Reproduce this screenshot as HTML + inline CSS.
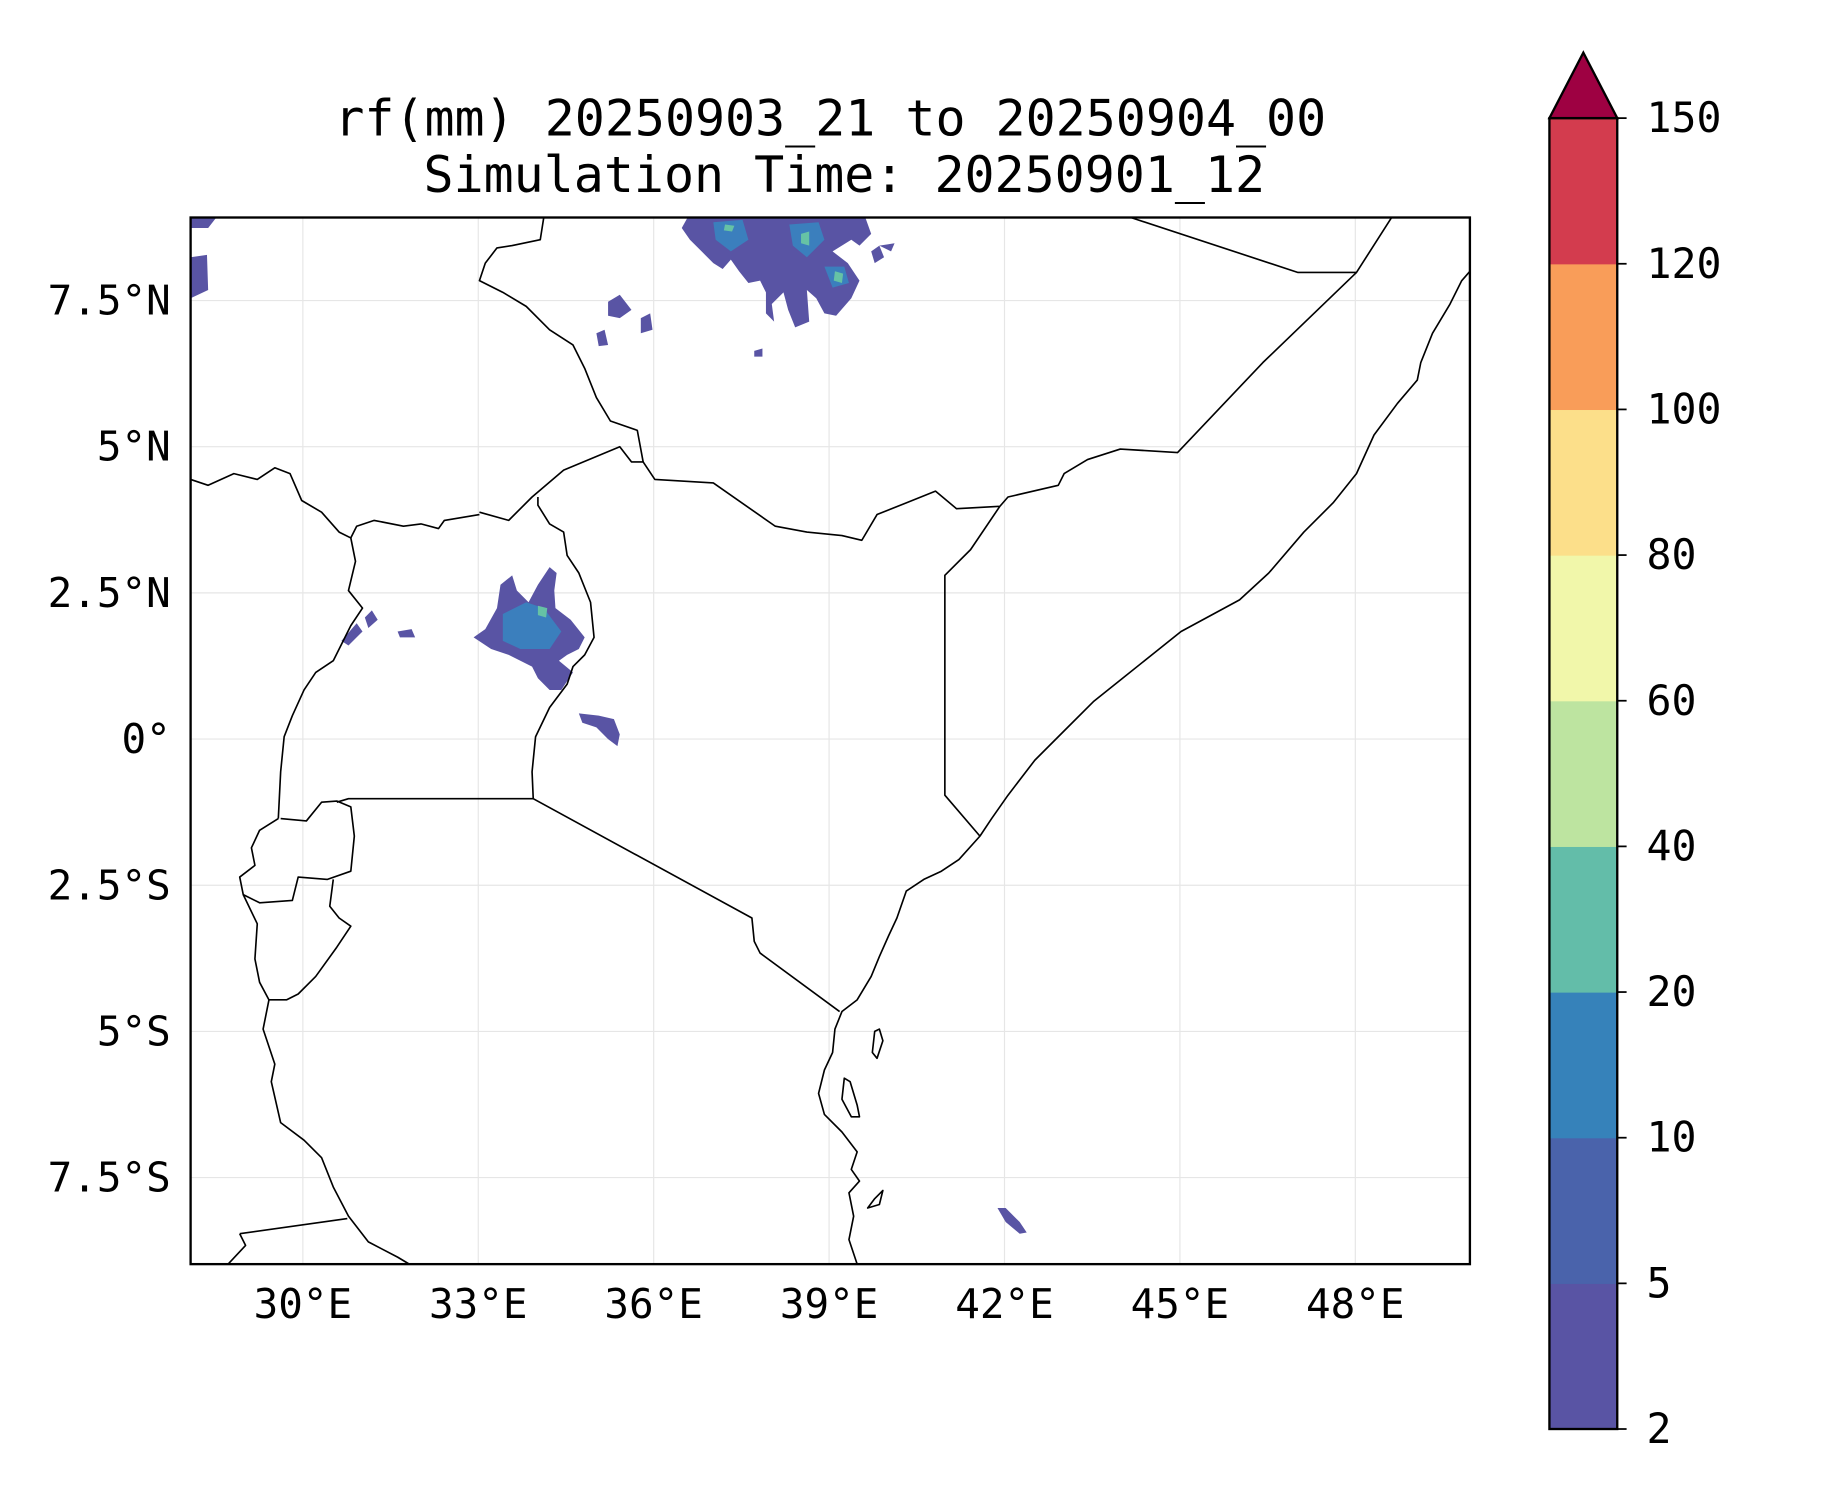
<!DOCTYPE html>
<html><head><meta charset="utf-8"><style>
html,body{margin:0;padding:0;background:#fff;}
svg{display:block;}
text{font-family:"DejaVu Sans Mono","Liberation Mono",monospace;fill:#000;}
</style></head><body>
<svg id="chart" width="1833" height="1500" viewBox="0 0 1567.5 1282.7" preserveAspectRatio="none" xmlns="http://www.w3.org/2000/svg">
<text x="710" y="116" font-size="42.7" text-anchor="middle">rf(mm) 20250903_21 to 20250904_00</text>
<text x="722" y="164" font-size="42.7" text-anchor="middle">Simulation Time: 20250901_12</text>
<g id="grid"></g>
<g id="rain">
 <path fill="#5954a4" d="M428,500 L438,492 L442,505 L452,515 L460,500 L470,485 L476,490 L474,505 L475,520 L488,530 L500,545 L495,555 L485,560 L478,565 L490,575 L480,590 L470,590 L460,580 L455,570 L445,565 L435,560 L420,555 L405,545 L415,538 L425,520 Z"/>
 <path fill="#3b7fbd" d="M430,525 L450,515 L465,520 L480,540 L470,555 L445,555 L430,548 Z"/>
 <path fill="#66c2a5" d="M460,518 L468,520 L467,528 L460,526 Z"/>
 <path fill="#5954a4" d="M495,610 L512,612 L525,615 L530,628 L528,638 L520,632 L510,622 L498,618 Z"/>
 <path fill="#5954a4" d="M292,548 L305,533 L310,540 L298,552 Z M312,528 L318,522 L323,530 L315,537 Z M340,540 L352,538 L355,545 L342,545 Z"/>
 <path fill="#5954a4" d="M588,186 L740,186 L745,200 L735,210 L728,205 L712,215 L725,225 L735,240 L728,255 L715,270 L705,268 L698,255 L690,248 L692,275 L680,280 L674,265 L670,250 L660,260 L662,275 L655,268 L655,250 L650,240 L640,242 L632,232 L625,222 L618,230 L610,225 L600,215 L590,205 L583,195 Z"/>
 <path fill="#3b7fbd" d="M610,190 L635,188 L640,205 L625,215 L612,205 Z M675,192 L700,190 L705,205 L690,220 L678,210 Z M705,228 L722,228 L726,242 L712,246 Z"/>
 <path fill="#66c2a5" d="M685,200 L692,198 L692,210 L685,208 Z M714,232 L721,234 L720,242 L713,240 Z M620,192 L628,193 L626,198 L619,197 Z"/>
 <path fill="#5954a4" d="M520,258 L530,252 L540,265 L530,272 L520,270 Z M548,272 L556,268 L558,282 L548,285 Z M510,285 L517,282 L520,295 L512,296 Z M645,300 L652,298 L652,305 L645,305 Z M163,220 L177,218 L178,248 L163,255 Z M163,186 L185,186 L178,195 L163,195 Z M745,215 L752,210 L756,220 L748,225 Z M752,210 L765,208 L762,215 Z"/>
 <path fill="#5954a4" d="M853,1033 L860,1033 L872,1045 L878,1054 L872,1055 L860,1045 Z"/>
</g>
<g fill="none" stroke="#000" stroke-width="1.4" stroke-linejoin="round">
 <polyline points="1257,232 1250,240 1240,260 1225,285 1215,310 1212,325 1195,345 1175,372 1160,405 1140,430 1115,455 1085,490 1060,513 1010,540 985,560 960,580 935,600 910,625 885,650 862,680 848,700 838,715 820,735 805,745 790,752 775,762 767,785 760,800 752,818 745,835 733,855 720,865 714,880 712,900 705,915 700,935 705,953 720,968 733,985 728,1000 735,1010 726,1020 730,1040 726,1060 733,1081"/>
 <polyline points="967,186 1110,233 1160,233 1190,186"/>
 <polyline points="1160,233 1080,310 1007,387 958,384 930,393 910,405 905,415 862,425 855,433 818,435 800,420 775,430 750,440 737,462 720,458 690,455 663,450 610,413 560,410 550,395 540,395 530,382 482,402 455,425 435,445 410,438"/>
 <polyline points="855,433 830,470 808,492 808,680 838,715"/>
 <polyline points="456,683 643,785 645,805 650,815 718,865"/>
 <polyline points="288,686 298,683 456,683"/>
 <polyline points="456,683 455,660 458,630 470,605 485,585 490,570 500,560 508,545 505,515 495,490 485,475 482,455 470,448 460,432 460,425"/>
 <polyline points="300,460 304,480 298,505 310,520 300,535 285,565 270,575 260,590 250,612 243,630 240,660 238,700"/>
 <polyline points="300,460 305,450 320,445 345,450 360,448 375,452 380,445 410,440"/>
 <polyline points="163,410 178,415 200,405 220,410 235,400 248,405 258,428 275,438 290,455 300,460"/>
 <polyline points="465,186 462,205 438,210 425,212 415,225 410,240 430,250 450,262 470,282 490,295 500,315 510,340 522,360 545,368 550,395"/>
 <polyline points="238,700 222,710 215,725 218,740 205,750 208,765 222,772 250,770 255,750 280,752 300,745 303,715 300,690 288,685 275,686 262,702 240,700"/>
 <polyline points="208,765 220,790 218,820 222,840 230,855 225,880 235,910 232,925 240,960 260,975 275,990 285,1015 298,1040 315,1062 340,1075 350,1081"/>
 <polyline points="285,752 282,775 290,785 300,792 288,810 270,835 255,850 245,855 230,855"/>
 <polyline points="205,1055 297,1042"/>
 <polyline points="205,1055 210,1065 195,1081"/>
 <path d="M748,882 L752,880 L755,890 L750,905 L746,900 Z"/>
 <path d="M722,922 L727,925 L733,945 L735,955 L728,955 L720,940 Z"/>
 <path d="M748,1025 L755,1018 L752,1030 L742,1033 Z"/>
</g>
<rect x="163" y="186" width="1094" height="895" fill="none" stroke="#000" stroke-width="2"/>
<g id="axes"></g>
<g id="cbar"></g>
<script>
const lonTicks = [30, 33, 36, 39, 42, 45, 48];
const lonLabels = ["30°E","33°E","36°E","39°E","42°E","45°E","48°E"];
const latTicks = [7.5, 5, 2.5, 0, -2.5, -5, -7.5];
const latLabels = ["7.5°N","5°N","2.5°N","0°","2.5°S","5°S","7.5°S"];
const levels = [2, 5, 10, 20, 40, 60, 80, 100, 120, 150];
const levelColors = ["#5954a4","#4a63ab","#3682ba","#63bda9","#bde4a0","#f1f7aa","#fcdf8a","#f99d59","#d33c4e"];
const extendColor = "#9e0142";

const NS = "http://www.w3.org/2000/svg";
const X0=163,X1=1257,Y0=186,Y1=1081;
const lonMin=28.08, lonMax=49.96, latMax=8.92, latMin=-8.98;
const xScale = lon => X0 + (lon-lonMin)/(lonMax-lonMin)*(X1-X0);
const yScale = lat => Y0 + (latMax-lat)/(latMax-latMin)*(Y1-Y0);
function mk(tag, attrs, parent){const e=document.createElementNS(NS,tag);for(const k in attrs)e.setAttribute(k,attrs[k]);parent.appendChild(e);return e;}
const grid=document.getElementById('grid'), axes=document.getElementById('axes'), cbar=document.getElementById('cbar');
lonTicks.forEach((lon,i)=>{
  const x=xScale(lon);
  const g=mk('line',{x1:x,x2:x,y1:Y0,y2:Y1,stroke:'#e6e6e6','stroke-width':1},grid);
  
  
  const t=mk('text',{x:x,y:1127,'font-size':35,'text-anchor':'middle'},axes);
  t.textContent=lonLabels[i];
  
  
});
latTicks.forEach((lat,i)=>{
  const y=yScale(lat);
  const g=mk('line',{x1:X0,x2:X1,y1:y,y2:y,stroke:'#e6e6e6','stroke-width':1},grid);
  
  
  const t=mk('text',{x:146,y:y+12,'font-size':35,'text-anchor':'end'},axes);
  t.textContent=latLabels[i];
  
  
});
const CX0=1325,CX1=1383,CB=1222,CT=101;
const step=(CB-CT)/(levels.length-1);
const yLev = i => CB - i*step;
levelColors.forEach((c,i)=>{
  const r=mk('rect',{x:CX0,y:yLev(i+1),width:CX1-CX0,height:step+0.5,fill:c},cbar);
  
  
});
const tri=mk('polygon',{points:`${CX0},${CT} ${CX1},${CT} ${(CX0+CX1)/2},45`,fill:extendColor,stroke:'#000','stroke-width':2},cbar);


const fr=mk('rect',{x:CX0,y:CT,width:CX1-CX0,height:CB-CT,fill:'none',stroke:'#000','stroke-width':2},cbar);


levels.forEach((v,i)=>{
  const y=yLev(i);
  const tk=mk('line',{x1:CX1,x2:CX1+8,y1:y,y2:y,stroke:'#000','stroke-width':1.5},cbar);
  
  
  const t=mk('text',{x:1408,y:y+12,'font-size':35.5},cbar);
  t.textContent=String(v);
  
  
});
</script>
</svg>
</body></html>
